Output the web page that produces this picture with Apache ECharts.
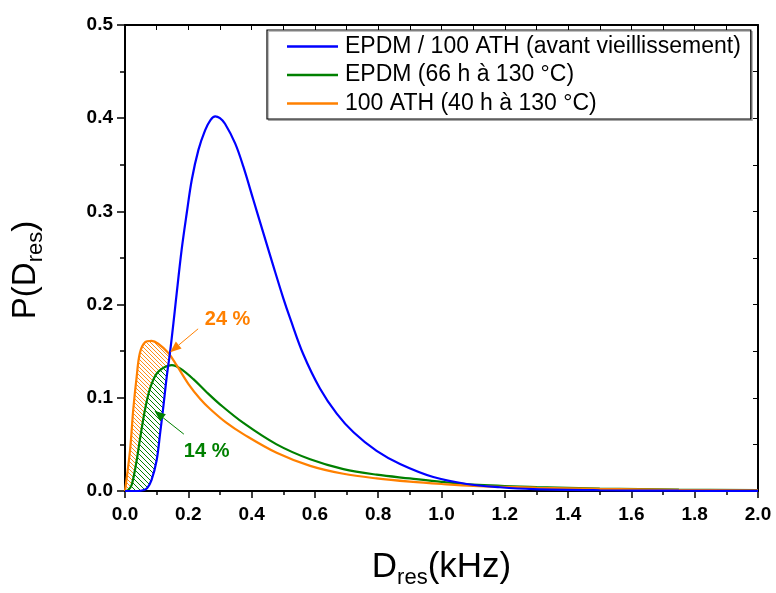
<!DOCTYPE html>
<html><head><meta charset="utf-8">
<script src="https://cdn.jsdelivr.net/npm/echarts@6/dist/echarts.min.js"></script>
<style>html,body{margin:0;padding:0;background:#fff}#c{width:776px;height:593px}</style>
</head><body><div id="c"></div>
<script>
const FONT = 'Arial, "Liberation Sans", sans-serif';
const seriesNames = ['EPDM / 100 ATH (avant vieillissement)', 'EPDM (66 h à 130 °C)', '100 ATH (40 h à 130 °C)'];
const colors = ['#0000FF', '#008000', '#FF8000'];

// Blue: EPDM / 100 ATH (avant vieillissement)
const blueX = [0, 0.040, 0.060, 0.070, 0.084, 0.100, 0.111, 0.121, 0.132, 0.142, 0.153, 0.161, 0.179, 0.195, 0.211, 0.232, 0.253, 0.270, 0.285, 0.300, 0.316, 0.348, 0.374, 0.405, 0.437, 0.469, 0.500, 0.521, 0.563, 0.616, 0.669, 0.722, 0.795, 0.869, 0.974, 1.080, 1.185, 1.290, 1.500, 1.750, 2.000];
const blueY = [0, 0, 0.001, 0.003, 0.012, 0.033, 0.062, 0.090, 0.123, 0.148, 0.180, 0.205, 0.259, 0.298, 0.334, 0.366, 0.387, 0.398, 0.402, 0.400, 0.394, 0.373, 0.348, 0.313, 0.277, 0.241, 0.207, 0.186, 0.147, 0.110, 0.083, 0.063, 0.043, 0.029, 0.015, 0.0075, 0.004, 0.002, 0.0008, 0.0003, 0.0001];

// Green: EPDM (66 h à 130 °C)
const greenX = [0, 0.010, 0.021, 0.037, 0.047, 0.063, 0.079, 0.100, 0.126, 0.148, 0.174, 0.216, 0.258, 0.300, 0.374, 0.479, 0.585, 0.690, 0.795, 0.900, 1.000, 1.100, 1.300, 1.500, 1.750, 2.000];
const greenY = [0, 0.001, 0.0064, 0.033, 0.055, 0.087, 0.110, 0.126, 0.133, 0.135, 0.1315, 0.120, 0.106, 0.093, 0.073, 0.050, 0.034, 0.0235, 0.0175, 0.0135, 0.0098, 0.0068, 0.0042, 0.0026, 0.0015, 0.001];

// Orange: 100 ATH (40 h à 130 °C)
const orangeX = [0, 0.016, 0.026, 0.037, 0.047, 0.063, 0.084, 0.105, 0.137, 0.163, 0.200, 0.237, 0.269, 0.321, 0.374, 0.479, 0.585, 0.690, 0.795, 0.900, 1.000, 1.100, 1.300, 1.500, 1.750, 2.000];
const orangeY = [0, 0.044, 0.087, 0.123, 0.148, 0.1595, 0.161, 0.158, 0.148, 0.135, 0.115, 0.099, 0.088, 0.073, 0.061, 0.041, 0.027, 0.0185, 0.0135, 0.010, 0.0075, 0.0055, 0.0035, 0.0022, 0.0013, 0.0008];

// crossing points with the blue curve (end of hatched areas)
const crossOrange = [0.140, 0.147];
const crossGreen = [0.138, 0.135];

// annotations (data coordinates)
const annoTexts = ['24 %', '14 %'];
const annoTextPos = [[0.324, 0.1835], [0.258, 0.042]];
const annoArrowFrom = [[0.231, 0.174], [0.186, 0.061]];
const annoArrowTo = [[0.143, 0.149], [0.093, 0.086]];
const annoColors = ['#FF8000', '#008000'];

function pairs(xs, ys) { return xs.map((x, i) => [x, ys[i]]); }

function hatch(color, bg, s, w) {
  const c = document.createElement('canvas');
  c.width = s; c.height = s;
  const ctx = c.getContext('2d');
  if (bg) { ctx.fillStyle = bg; ctx.fillRect(0, 0, s, s); }
  ctx.strokeStyle = color; ctx.lineWidth = w;
  ctx.beginPath();
  for (let k = -1; k <= 1; k++) { ctx.moveTo(0, k * s); ctx.lineTo(s, s + k * s); }
  ctx.stroke();
  return c;
}
const hatchOrange = hatch('#FF8000', '#ffffff', 4, 0.9);
const hatchGreen = hatch('#008000', '#ffffff', 5, 1);

function hatchRender(topX, topY, cross, img) {
  return function (params, api) {
    const pts = [];
    for (let i = 0; i < topX.length; i++) if (topX[i] < cross[0]) pts.push(api.coord([topX[i], topY[i]]));
    pts.push(api.coord(cross));
    for (let i = blueX.length - 1; i >= 0; i--) if (blueX[i] < cross[0]) pts.push(api.coord([blueX[i], blueY[i]]));
    return { type: 'polygon', shape: { points: pts }, style: { fill: { image: img, repeat: 'repeat' }, stroke: null } };
  };
}

function annoRender(params, api) {
  const i = params.dataIndex;
  const p1 = api.coord(annoArrowFrom[i]);
  const p2 = api.coord(annoArrowTo[i]);
  const dx = p2[0] - p1[0], dy = p2[1] - p1[1];
  const L = Math.sqrt(dx * dx + dy * dy);
  const ux = dx / L, uy = dy / L;
  const hl = 11, hw = 4.5;
  const bx = p2[0] - ux * hl, by = p2[1] - uy * hl;
  const tp = api.coord(annoTextPos[i]);
  const col = annoColors[i];
  return {
    type: 'group',
    children: [
      { type: 'line', shape: { x1: p1[0], y1: p1[1], x2: bx, y2: by }, style: { stroke: col, lineWidth: 1 } },
      { type: 'polygon', shape: { points: [p2, [bx - uy * hw, by + ux * hw], [bx + uy * hw, by - ux * hw]] }, style: { fill: col } },
      { type: 'text', x: tp[0], y: tp[1], style: { text: annoTexts[i], fill: col, font: 'bold 20px ' + FONT, align: 'center', verticalAlign: 'middle', textAlign: 'center', textVerticalAlign: 'middle' } }
    ]
  };
}

const chart = echarts.init(document.getElementById('c'), null, { renderer: 'canvas' });
const axisLine = { show: true, onZero: false, lineStyle: { color: '#000', width: 2 } };
const option = {
  backgroundColor: '#fff',
  animation: false,
  grid: { left: 125, right: 18, top: 25, bottom: 102, containLabel: false, outerBoundsMode: 'none' },
  legend: {
    orient: 'vertical', left: 267, top: 30,
    padding: [5, 10, 4, 20], itemGap: 5.5, itemWidth: 51, itemHeight: 2.5, icon: 'rect',
    borderColor: '#000', borderWidth: 1.2, backgroundColor: '#fff',
    shadowColor: 'rgba(0,0,0,0.25)', shadowOffsetX: 1.5, shadowOffsetY: 1.5, shadowBlur: 0,
    textStyle: { fontSize: 23, fontFamily: FONT, color: '#000', padding: [0, 0, 0, 2] },
    data: seriesNames
  },
  xAxis: [{
    type: 'value', min: 0, max: 2, interval: 0.2, position: 'bottom',
    axisLine: axisLine,
    axisTick: { show: true, inside: false, length: 7, lineStyle: { color: '#000', width: 1.5 } },
    minorTick: { show: true, splitNumber: 2, length: 4, lineStyle: { color: '#000', width: 1.5 } },
    splitLine: { show: false }, minorSplitLine: { show: false },
    axisLabel: { fontSize: 19, fontWeight: 'bold', fontFamily: FONT, color: '#000', margin: 14, formatter: v => v.toFixed(1) },
    name: '{a|D}{b|res}{a|(kHz)}', nameLocation: 'middle', nameGap: 55,
    nameTextStyle: { rich: { a: { fontSize: 35, fontFamily: FONT, color: '#000' }, b: { fontSize: 22, fontFamily: FONT, color: '#000', padding: [21, 0, 0, 0] } } }
  }, {
    type: 'value', min: 0, max: 2, interval: 0.2, position: 'top',
    axisLine: axisLine,
    axisTick: { show: true, inside: true, length: 5, lineStyle: { color: '#000', width: 1 } },
    minorTick: { show: true, splitNumber: 2, length: 5, lineStyle: { color: '#000', width: 1 } },
    splitLine: { show: false }, axisLabel: { show: false }
  }],
  yAxis: [{
    type: 'value', min: 0, max: 0.5, interval: 0.1, position: 'left',
    axisLine: axisLine,
    axisTick: { show: true, inside: false, length: 8, lineStyle: { color: '#000', width: 1.5 } },
    minorTick: { show: true, splitNumber: 2, length: 5, lineStyle: { color: '#000', width: 1.5 } },
    splitLine: { show: false }, minorSplitLine: { show: false },
    axisLabel: { fontSize: 19, fontWeight: 'bold', fontFamily: FONT, color: '#000', margin: 12, formatter: v => v.toFixed(1) },
    name: '{a|P(D}{b|res}{a|)}', nameLocation: 'middle', nameGap: 78,
    nameTextStyle: { padding: [0, 24, 0, 0], rich: { a: { fontSize: 33, fontFamily: FONT, color: '#000' }, b: { fontSize: 22, fontFamily: FONT, color: '#000', padding: [20, 0, 0, 0] } } }
  }, {
    type: 'value', min: 0, max: 0.5, interval: 0.1, position: 'right',
    axisLine: axisLine,
    axisTick: { show: true, inside: true, length: 5, lineStyle: { color: '#000', width: 1 } },
    minorTick: { show: true, splitNumber: 2, length: 5, lineStyle: { color: '#000', width: 1 } },
    splitLine: { show: false }, axisLabel: { show: false }
  }],
  series: [
    { type: 'custom', name: 'hatchOrange', xAxisIndex: 0, yAxisIndex: 0, z: 1, silent: true, data: [[0, 0]], renderItem: hatchRender(orangeX, orangeY, crossOrange, hatchOrange) },
    { type: 'custom', name: 'hatchGreen', xAxisIndex: 0, yAxisIndex: 0, z: 1, silent: true, data: [[0, 0]], renderItem: hatchRender(greenX, greenY, crossGreen, hatchGreen) },
    { type: 'line', name: seriesNames[0], data: pairs(blueX, blueY), symbol: 'none', smooth: 0.35, z: 4, color: colors[0], lineStyle: { width: 2.2, color: colors[0] } },
    { type: 'line', name: seriesNames[1], data: pairs(greenX, greenY), symbol: 'none', smooth: 0.35, z: 3, color: colors[1], lineStyle: { width: 2.2, color: colors[1] } },
    { type: 'line', name: seriesNames[2], data: pairs(orangeX, orangeY), symbol: 'none', smooth: 0.35, z: 3, color: colors[2], lineStyle: { width: 2.2, color: colors[2] } },
    { type: 'custom', name: 'annotations', xAxisIndex: 0, yAxisIndex: 0, z: 5, silent: true, clip: false, data: annoTexts.map((t, i) => [i, 0]), renderItem: annoRender }
  ]
};
chart.setOption(option);
</script>
</body></html>
